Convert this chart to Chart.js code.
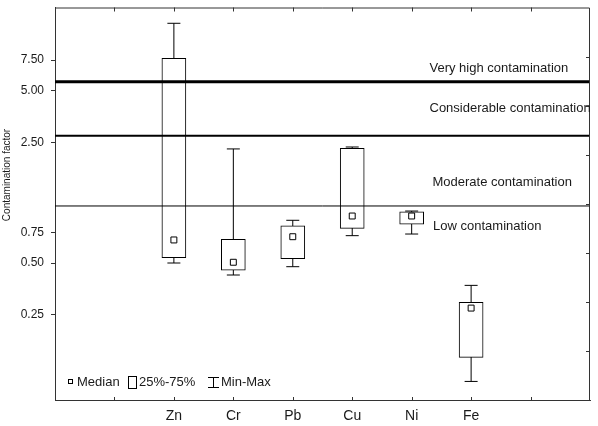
<!DOCTYPE html>
<html>
<head>
<meta charset="utf-8">
<script src="https://cdn.jsdelivr.net/npm/chart.js@4"></script>
<style>
  html, body { margin: 0; padding: 0; background: #fff; }
  #wrap { width: 598px; height: 426px; }
</style>
</head>
<body>
<div id="wrap"><canvas id="c" width="598" height="426"></canvas></div>
<script>
// Contamination factor per element: min, quartiles, median, max
const categories   = ['Zn', 'Cr', 'Pb', 'Cu', 'Ni', 'Fe'];
const minValues    = [0.50, 0.426, 0.476, 0.72, 0.736, 0.103];
const q1Values     = [0.537, 0.455, 0.530, 0.794, 0.838, 0.142];
const medianValues = [0.68, 0.505, 0.71, 0.936, 0.936, 0.274];
const q3Values     = [7.67, 0.686, 0.822, 2.31, 0.991, 0.296];
const maxValues    = [12.24, 2.29, 0.884, 2.35, 1.0, 0.371];

// Y-axis tick labels and class boundaries
const yTickValues     = [0.25, 0.5, 0.75, 2.5, 5, 7.5];
const thresholdValues = [1.07, 2.73, 5.62];
const zoneNames = ['Very high contamination', 'Considerable contamination',
                   'Moderate contamination', 'Low contamination'];
const legendLabels = ['Median', '25%-75%', 'Min-Max'];
const yTitle = 'Contamination factor';

const FONT = "'Liberation Sans', Arial, sans-serif";
const INK = '#1a1a1a';
const AXIS = '#333';

// categories sit on slots 2..7 of a 0..9 axis (slots 1 and 8 are empty)
const slotOf = i => i + 2;

const whiskerData = [];
categories.forEach((c, i) => {
  whiskerData.push({ x: slotOf(i), y: minValues[i] });
  whiskerData.push({ x: slotOf(i), y: maxValues[i] });
  whiskerData.push({ x: slotOf(i), y: null });
});
const capData = [];
categories.forEach((c, i) => {
  capData.push({ x: slotOf(i), y: minValues[i] });
  capData.push({ x: slotOf(i), y: maxValues[i] });
});
const boxData = categories.map((c, i) => ({ x: slotOf(i), y: [q1Values[i], q3Values[i]] }));
const medianData = categories.map((c, i) => ({ x: slotOf(i), y: medianValues[i] }));

const lineWidths = [1, 2, 3];
const thresholdSets = thresholdValues.map((v, k) => ({
  type: 'line',
  data: [{ x: 0, y: v }, { x: 9, y: v }],
  borderColor: '#000',
  borderWidth: lineWidths[k],
  pointRadius: 0,
  order: 1
}));

// where each zone caption starts, in axis units
const zoneAnchors = [
  { x: 6.30, y: 6.74 },
  { x: 6.30, y: 3.94 },
  { x: 6.35, y: 1.46 },
  { x: 6.36, y: 0.81 }
];

const decorPlugin = {
  id: 'decor',
  afterDraw(chart) {
    const { ctx, chartArea: a, scales: { x, y } } = chart;
    ctx.save();

    // top and right frame, inward tick marks
    ctx.strokeStyle = AXIS;
    ctx.lineWidth = 1;
    ctx.beginPath();
    ctx.moveTo(a.left, a.top + 0.5);
    ctx.lineTo(a.right - 0.5, a.top + 0.5);
    ctx.lineTo(a.right - 0.5, a.bottom);
    for (let v = 1; v <= 8; v++) {
      const px = Math.round(x.getPixelForValue(v)) + 0.5;
      ctx.moveTo(px, a.bottom);
      ctx.lineTo(px, a.bottom - 3);
      ctx.moveTo(px, a.top);
      ctx.lineTo(px, a.top + 4);
    }
    for (let k = 1; k < 8; k++) {
      const py = Math.round(a.bottom - k * (a.bottom - a.top) / 8) + 0.5;
      ctx.moveTo(a.right, py);
      ctx.lineTo(a.right - 4, py);
    }
    ctx.stroke();

    // zone captions
    ctx.fillStyle = INK;
    ctx.font = '13px ' + FONT;
    ctx.textAlign = 'left';
    ctx.textBaseline = 'middle';
    zoneNames.forEach((t, k) => {
      const an = zoneAnchors[k];
      ctx.fillText(t, x.getPixelForValue(an.x), y.getPixelForValue(an.y));
    });

    // legend inside the plot, bottom-left
    const ly = a.bottom - 18;
    const lx = a.left;
    ctx.strokeStyle = '#000';
    ctx.strokeRect(lx + 13.5, ly - 2.5, 4, 4);
    ctx.fillText(legendLabels[0], lx + 22, ly);
    ctx.strokeRect(lx + 73.5, ly - 5.5, 8, 12);
    ctx.fillText(legendLabels[1], lx + 84, ly);
    ctx.beginPath();
    ctx.moveTo(lx + 158.5, ly - 5); ctx.lineTo(lx + 158.5, ly + 6);
    ctx.moveTo(lx + 153, ly - 4.5); ctx.lineTo(lx + 164, ly - 4.5);
    ctx.moveTo(lx + 153, ly + 5.5); ctx.lineTo(lx + 164, ly + 5.5);
    ctx.stroke();
    ctx.fillText(legendLabels[2], lx + 166, ly);

    // rotated y-axis title
    ctx.translate(7, 175);
    ctx.rotate(-Math.PI / 2);
    ctx.textAlign = 'center';
    ctx.font = '10px ' + FONT;
    ctx.fillText(yTitle, 0, 0);
    ctx.restore();
  }
};

new Chart(document.getElementById('c'), {
  type: 'bar',
  data: {
    datasets: [
      {
        type: 'line',
        data: whiskerData,
        borderColor: '#000',
        borderWidth: 1,
        pointRadius: 0,
        spanGaps: false,
        order: 4
      },
      {
        type: 'bar',
        data: boxData,
        backgroundColor: '#fff',
        borderColor: '#000',
        borderWidth: 1,
        borderSkipped: false,
        barThickness: 24,
        order: 3
      },
      {
        type: 'scatter',
        data: capData,
        pointStyle: 'line',
        pointRadius: 6.5,
        borderColor: '#000',
        borderWidth: 1,
        order: 2
      },
      {
        type: 'scatter',
        data: medianData,
        pointStyle: 'rect',
        pointRadius: 4.2,
        backgroundColor: '#fff',
        borderColor: '#000',
        borderWidth: 1,
        order: 2
      },
      ...thresholdSets
    ]
  },
  options: {
    responsive: false,
    animation: false,
    events: [],
    layout: { padding: { top: 7, right: 8, bottom: 0, left: 0 } },
    plugins: { legend: { display: false }, tooltip: { enabled: false } },
    scales: {
      x: {
        type: 'linear',
        min: 0,
        max: 9,
        offset: false,
        afterBuildTicks: s => { s.ticks = [1, 2, 3, 4, 5, 6, 7, 8].map(v => ({ value: v })); },
        afterFit: s => { s.height = 26; s.paddingLeft = 0; s.paddingRight = 0; },
        ticks: {
          autoSkip: false,
          maxRotation: 0,
          padding: 8,
          color: INK,
          font: { family: FONT, size: 14 },
          callback: v => categories[v - 2] ?? ''
        },
        grid: { display: false, drawTicks: false },
        border: { display: true, color: AXIS, width: 1 }
      },
      y: {
        type: 'logarithmic',
        min: 0.0804,
        max: 15.11,
        afterBuildTicks: s => { s.ticks = yTickValues.map(v => ({ value: v })); },
        afterFit: s => { s.width = 55; s.paddingTop = 0; s.paddingBottom = 0; },
        ticks: {
          autoSkip: false,
          padding: 7,
          color: INK,
          font: { family: FONT, size: 12 },
          callback: v => Number(v).toFixed(2)
        },
        grid: { drawOnChartArea: false, drawTicks: true, tickLength: 4, color: AXIS },
        border: { display: true, color: AXIS, width: 1 }
      }
    }
  },
  plugins: [decorPlugin]
});
</script>
</body>
</html>
